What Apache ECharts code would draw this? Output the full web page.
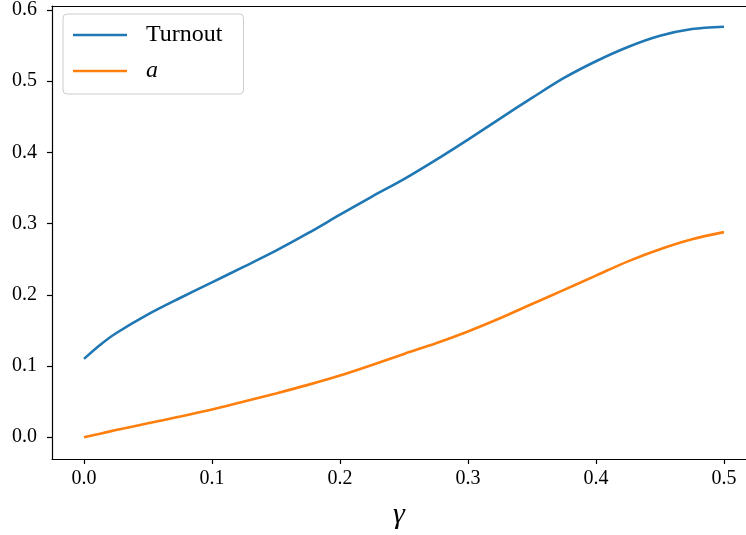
<!DOCTYPE html>
<html>
<head>
<meta charset="utf-8">
<script src="https://cdn.jsdelivr.net/npm/echarts@6/dist/echarts.min.js"></script>
<style>html,body{margin:0;padding:0;background:#fff}#c{width:746px;height:535px}</style>
</head>
<body>
<div id="c"></div>
<script>
const gamma = [0, 0.0125, 0.025, 0.05, 0.075, 0.1, 0.125, 0.15, 0.175, 0.2, 0.225, 0.25, 0.275, 0.3, 0.325, 0.35, 0.375, 0.4, 0.425, 0.45, 0.475, 0.5];
const turnout = [0.110, 0.1295, 0.146, 0.1725, 0.1955, 0.2175, 0.2395, 0.262, 0.2865, 0.3125, 0.338, 0.3625, 0.3895, 0.418, 0.4475, 0.4765, 0.5045, 0.528, 0.548, 0.5637, 0.5732, 0.5765];
const aValues = [0, 0.005, 0.010, 0.0195, 0.029, 0.039, 0.0502, 0.0615, 0.0735, 0.0866, 0.1015, 0.117, 0.132, 0.1485, 0.167, 0.187, 0.207, 0.227, 0.247, 0.264, 0.278, 0.288];
const xTicks = [0, 0.1, 0.2, 0.3, 0.4, 0.5];
const yTicks = [0, 0.1, 0.2, 0.3, 0.4, 0.5, 0.6];
const seriesNames = ['Turnout', 'a'];

const FONT = 'Liberation Serif';
const chart = echarts.init(document.getElementById('c'), null, {renderer: 'canvas'});
const pairs = (ys) => gamma.map((g, i) => [g, ys[i]]);
const X_MIN = -0.025, X_MAX = 0.5172;

chart.setOption({
  animation: false,
  backgroundColor: '#fff',
  grid: {left: 52, top: 3, right: 0, bottom: 74, show: false, containLabel: false},
  legend: {
    left: 63, top: 14, orient: 'vertical',
    itemWidth: 54, itemHeight: 2.6, itemGap: 12,
    icon: 'rect',
    padding: [9, 21, 11, 10],
    borderColor: '#cccccc', borderWidth: 1, borderRadius: 4,
    backgroundColor: 'rgba(255,255,255,0.8)',
    formatter: n => n === 'a' ? '{i|a}' : '{n|' + n + '}',
    textStyle: {
      fontFamily: FONT, fontSize: 24, color: '#000', lineHeight: 23, padding: [0, 0, 0, 14],
      rich: {
        n: {fontFamily: FONT, fontSize: 24, color: '#000'},
        i: {fontFamily: FONT, fontSize: 24, fontStyle: 'italic', color: '#000'}
      }
    },
    data: seriesNames
  },
  xAxis: [{
    type: 'value', min: X_MIN, max: X_MAX, position: 'bottom',
    name: 'γ', nameLocation: 'middle', nameGap: 41,
    nameTextStyle: {fontFamily: FONT, fontSize: 30, fontStyle: 'italic', color: '#000'},
    axisLine: {show: true, onZero: false, lineStyle: {color: '#000', width: 1.2}},
    axisTick: {show: true, length: 5, customValues: xTicks, lineStyle: {color: '#000', width: 1.2}},
    axisLabel: {customValues: xTicks, margin: 10, fontFamily: FONT, fontSize: 20, color: '#000', formatter: v => v.toFixed(1)},
    splitLine: {show: false}
  }, {
    type: 'value', min: X_MIN, max: X_MAX, position: 'top',
    axisLine: {show: true, onZero: false, lineStyle: {color: '#000', width: 1.2}},
    axisTick: {show: false}, axisLabel: {show: false}, splitLine: {show: false}
  }],
  yAxis: {
    type: 'value', min: -0.0306, max: 0.6056,
    axisLine: {show: true, onZero: false, lineStyle: {color: '#000', width: 1.2}},
    axisTick: {show: true, length: 5, customValues: yTicks, lineStyle: {color: '#000', width: 1.2}},
    axisLabel: {customValues: yTicks, margin: 15, fontFamily: FONT, fontSize: 20, color: '#000', formatter: v => v.toFixed(1)},
    splitLine: {show: false}
  },
  series: [
    {name: seriesNames[0], type: 'line', xAxisIndex: 0, data: pairs(turnout), smooth: 0.3, showSymbol: false, symbol: 'none',
     lineStyle: {color: '#1f77b4', width: 2.6}, itemStyle: {color: '#1f77b4'}},
    {name: seriesNames[1], type: 'line', xAxisIndex: 0, data: pairs(aValues), smooth: 0.3, showSymbol: false, symbol: 'none',
     lineStyle: {color: '#ff7f0e', width: 2.6}, itemStyle: {color: '#ff7f0e'}}
  ]
});
</script>
</body>
</html>
